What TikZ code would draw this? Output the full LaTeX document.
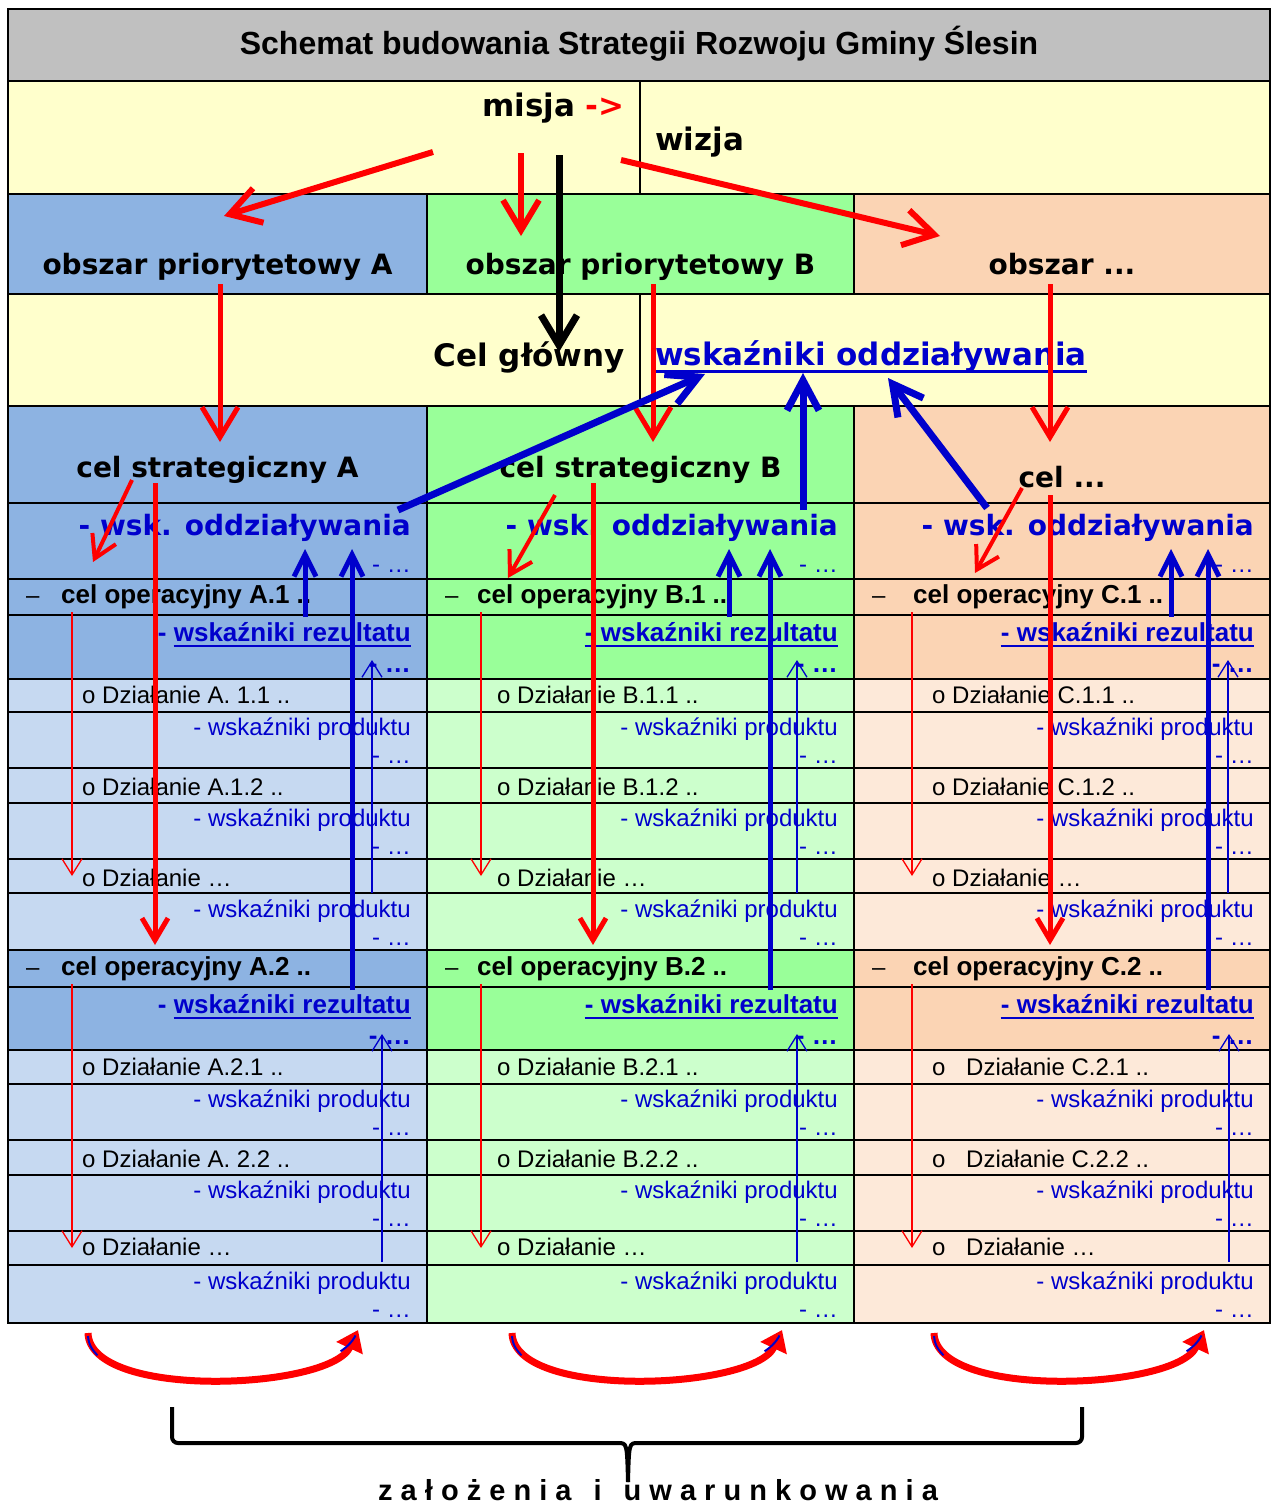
\documentclass[tikz,border=0pt]{standalone}
\usepackage{fontspec}
\setmainfont{Liberation Sans}
\newfontfamily\verd{DejaVu Sans}
\usepackage{tikz}
\usetikzlibrary{arrows.meta}
\usetikzlibrary{calc}
\usetikzlibrary{positioning}

\definecolor{szary}{HTML}{C0C0C0}
\definecolor{zolty}{HTML}{FFFFCC}
\definecolor{niebA}{HTML}{8DB3E2}
\definecolor{niebAj}{HTML}{C6D9F1}
\definecolor{zielB}{HTML}{99FF99}
\definecolor{zielBj}{HTML}{CCFFCC}
\definecolor{pomC}{HTML}{FBD4B4}
\definecolor{pomCj}{HTML}{FDE9D9}
\definecolor{nieb}{HTML}{0000CC}
\definecolor{czer}{HTML}{FF0000}

\newcommand{\fs}[1]{\fontsize{#1}{#1}\selectfont}

\tikzset{
	siatka/.style={line width=2pt},
	txt/.style={inner sep=0pt,anchor=base},
	duzy/.style={txt,font=\verd\bfseries\fs{31}},
	glowka/.style={txt,font=\verd\bfseries\fs{28}},
	oper/.style={txt,anchor=base west,font=\bfseries\fs{26}},
	dzial/.style={txt,anchor=base west,font=\fs{24}},
	prod/.style={txt,anchor=base east,font=\fs{24},text=nieb},
	rez/.style={txt,anchor=base east,font=\bfseries\fs{26},text=nieb},
	czerw/.style={czer,line width=6pt,-{Straight Barb[length=30pt,width=36pt]}},
	czarn/.style={black,line width=7pt,-{Straight Barb[length=30pt,width=36pt]}},
	czerwd/.style={czer,line width=5pt,-{Straight Barb[length=22pt,width=26pt]}},
	niebg/.style={nieb,line width=7pt,-{Straight Barb[length=30pt,width=32pt]}},
	niebs/.style={nieb,line width=5pt,-{Straight Barb[length=22pt,width=22pt]}},
	cienka/.style={line width=1.3pt,-{Straight Barb[length=16pt,width=20pt]}},
}

\begin{document}
\begin{tikzpicture}[x=1pt,y=-1pt]
	\useasboundingbox (0,0) rectangle (1271,1504);
	
	% tla
	\fill[szary] (8,9) rectangle (1270,81);
	\fill[zolty] (8,81) rectangle (1270,194);
	\fill[zolty] (8,294) rectangle (1270,406);
	
	% kolumny A, B, C
	\foreach \kol/\xl/\xr/\ciem/\jas/\ox/\pod/\ob/\cs/\cy in {
		A/8/427/niebA/niebAj/61/rz/{obszar priorytetowy A}/{cel strategiczny A}/477,
		B/427/854/zielB/zielBj/477/rd/{obszar priorytetowy B}/{cel strategiczny B}/477,
		C/854/1270/pomC/pomCj/913/rd/{obszar {.}{.}{.}}/{cel {.}{.}{.}}/487}{
		\fill[\ciem] (\xl,194) rectangle (\xr,294);
		\fill[\ciem] (\xl,406) rectangle (\xr,679);
		\fill[\jas] (\xl,679) rectangle (\xr,950);
		\fill[\ciem] (\xl,950) rectangle (\xr,1050);
		\fill[\jas] (\xl,1050) rectangle (\xr,1323);
		\node[glowka] (ob\kol) at ({(\xl+\xr)/2},274) {\ob};
		\node[glowka] (cs\kol) at ({(\xl+\xr)/2},\cy) {\cs};
		\node[glowka,anchor=base east,text=nieb] (wo\kol) at (\xr-16,535) {- wsk. oddziaływania};
		\node[prod] (wk\kol) at (\xr-16,572) {- …};
		\foreach \n/\g in {1/0,2/372}{
			\node[dzial] (ds\kol\n) at (\xl+18,603+\g) {–};
			\node[oper] (op\kol\n) at (\ox,603+\g) {cel operacyjny \kol.\n\ ..};
			\node[rez] (rz\kol\n) at (\xr-16,641+\g) {wskaźniki rezultatu};
			\node[rez] (rd\kol\n) at (rz\kol\n.base west) {-\kern7pt};
			\node[rez] (rk\kol\n) at (\xr-16,672+\g) {- …};
			\draw[nieb,line width=2.5pt] ([yshift=-5pt]\pod\kol\n.base west) -- ([yshift=-5pt]rz\kol\n.base east);
			\foreach \k/\dd in {0/0,1/91,2/182}{
				\node[prod] (pr\kol\n\k) at (\xr-16,735+\g+\dd) {- wskaźniki produktu};
				\node[prod] (pk\kol\n\k) at (\xr-16,763+\g+\dd) {- …};
			}
		}
	}
	
	% dzialania
	\foreach \x/\y/\s/\t in {
		82/703/0/A. 1.1 .., 82/795/0/A.1.2 .., 82/886/0/…,
		82/1075/0/A.2.1 .., 82/1167/0/A. 2.2 .., 82/1255/0/…,
		497/703/0/B.1.1 .., 497/795/0/B.1.2 .., 497/886/0/…,
		497/1075/0/B.2.1 .., 497/1167/0/B.2.2 .., 497/1255/0/…,
		932/703/0/C.1.1 .., 932/795/0/C.1.2 .., 932/886/0/…,
		932/1075/14/C.2.1 .., 932/1167/14/C.2.2 .., 932/1255/14/…}
		\node[dzial] (dz\x-\y) at (\x,\y) {o\hspace{\s pt}\ Działanie \t};
	
	% siatka tabeli
	\draw[siatka] (8,9) rectangle (1270,1323);
	\foreach \y in {81,194,294,406,503,579,615,679,712,768,803,859,893,950,987,1050,1084,1140,1175,1231,1265}
		\draw[siatka] (8,\y) -- (1270,\y);
	\draw[siatka] (640,81) -- (640,194) (640,294) -- (640,406);
	\foreach \x in {427,854}
		\draw[siatka] (\x,194) -- (\x,294) (\x,406) -- (\x,1323);
	
	% naglowki
	\node[txt,font=\bfseries\fs{32}] (tytul) at (639,55) {Schemat budowania Strategii Rozwoju Gminy Ślesin};
	\node[duzy,anchor=base east] (misja) at (625,116) {misja \textcolor{czer}{->}};
	\node[duzy,anchor=base west] (wizja) at (655,150) {wizja};
	\node[duzy,anchor=base east] (celg) at (625,366) {Cel główny};
	\node[duzy,anchor=base west,text=nieb] (wsk) at (655,365) {wskaźniki oddziaływania};
	\draw[nieb,line width=3pt] ([yshift=-6pt]wsk.base west) -- ([yshift=-6pt]wsk.base east);
	
	% strzalki z misji
	\coordinate (m1) at (433,152);
	\coordinate (m2) at (521,153);
	\coordinate (m3) at (621,160);
	\coordinate (m4) at (559,155);
	\coordinate (oA) at (224,216);
	\coordinate (oB) at (521,236);
	\coordinate (oC) at (940,236);
	\coordinate (cg) at (559,352);
	\draw[czerw] (m1) -- (oA);
	\draw[czerw] (m2) -- (oB);
	\draw[czerw] (m3) -- (oC);
	\draw[czarn] (m4) -- (cg);
	
	% strzalki w kolumnach
	\foreach \kol/\ob/\lx/\ly/\sx/\sy/\ex/\ey/\tx/\ma/\mb/\ba/\bb in {
		A/220/155/483/132/480/93/562/72/305/352/372/382,
		B/653/593/483/555/495/508/578/481/729/770/797/797,
		C/1050/1050/495/1022/488/975/573/912/1171/1208/1228/1229}{
		\coordinate (o1\kol) at (\ob,284);
		\coordinate (o2\kol) at (\ob,442);
		\coordinate (s1\kol) at (\sx,\sy);
		\coordinate (s2\kol) at (\ex,\ey);
		\coordinate (l1\kol) at (\lx,\ly);
		\coordinate (l2\kol) at (\lx,945);
		\coordinate (n1\kol) at (\ma,617);
		\coordinate (n2\kol) at (\mb,990);
		\coordinate (t1\kol) at (\ma,549);
		\coordinate (t2\kol) at (\mb,549);
		\coordinate (b1\kol) at (\ba,893);
		\coordinate (c1\kol) at (\ba,660);
		\coordinate (b2\kol) at (\bb,1262);
		\coordinate (c2\kol) at (\bb,1034);
		\draw[czerw,line width=5pt] (o1\kol) -- (o2\kol);
		\draw[czerwd,line width=4pt] (s1\kol) -- (s2\kol);
		\draw[czerwd] (l1\kol) -- (l2\kol);
		\draw[niebs] (n1\kol) -- (t1\kol);
		\draw[niebs] (n2\kol) -- (t2\kol);
		\draw[cienka,nieb] (b1\kol) -- (c1\kol);
		\draw[cienka,nieb] (b2\kol) -- (c2\kol);
		\foreach \n/\g in {1/0,2/372}{
			\coordinate (r1\kol\n) at (\tx,612+\g);
			\coordinate (r2\kol\n) at (\tx,876+\g);
			\draw[cienka,czer] (r1\kol\n) -- (r2\kol\n);
		}
	}
	
	% do wskaznikow oddzialywania
	\coordinate (wA) at (398,510);
	\coordinate (wB) at (803,510);
	\coordinate (wC) at (987,508);
	\coordinate (tA) at (705,374);
	\coordinate (tB) at (803,373);
	\coordinate (tC) at (888,378);
	\draw[niebg] (wA) -- (tA);
	\draw[niebg] (wB) -- (tB);
	\draw[niebg] (wC) -- (tC);
	
	% luki pod tabela
	\foreach \x [count=\i] in {88,512,934}{
		\coordinate (k1\i) at (\x,1333);
		\coordinate (k2\i) at (\x+270,1330);
		\draw[czer,line width=7pt,-{Triangle[length=20pt,width=28pt]}] (k1\i) .. controls +(2,67) and +(-28,60) .. (k2\i);
		\draw[nieb,line width=2pt,dash pattern=on 22pt off 1000pt,shorten <=3pt] (k1\i) .. controls +(2,67) and +(-28,60) .. (k2\i);
		\draw[nieb,line width=2pt,dash pattern=on 22pt off 1000pt,shorten <=6pt] (k2\i) .. controls +(-28,60) and +(2,67) .. (k1\i);
	}
	
	% klamra
	\coordinate (kl1) at (172,1407);
	\coordinate (kl2) at (628,1482);
	\coordinate (kl3) at (1082,1407);
	\draw[line width=4pt,rounded corners=6pt] (kl1) -- (172,1443) -- (612,1443) .. controls (627,1443) .. (kl2);
	\draw[line width=4pt,rounded corners=6pt] (kl2) .. controls (629,1443) .. (644,1443) -- (1082,1443) -- (kl3);
	\node[txt,anchor=base west,font=\bfseries\fs{29}] (zal) at (378,1500) {z a ł o ż e n i a\hspace{22pt}i\hspace{22pt}u w a r u n k o w a n i a};
	
\end{tikzpicture}
\end{document}
